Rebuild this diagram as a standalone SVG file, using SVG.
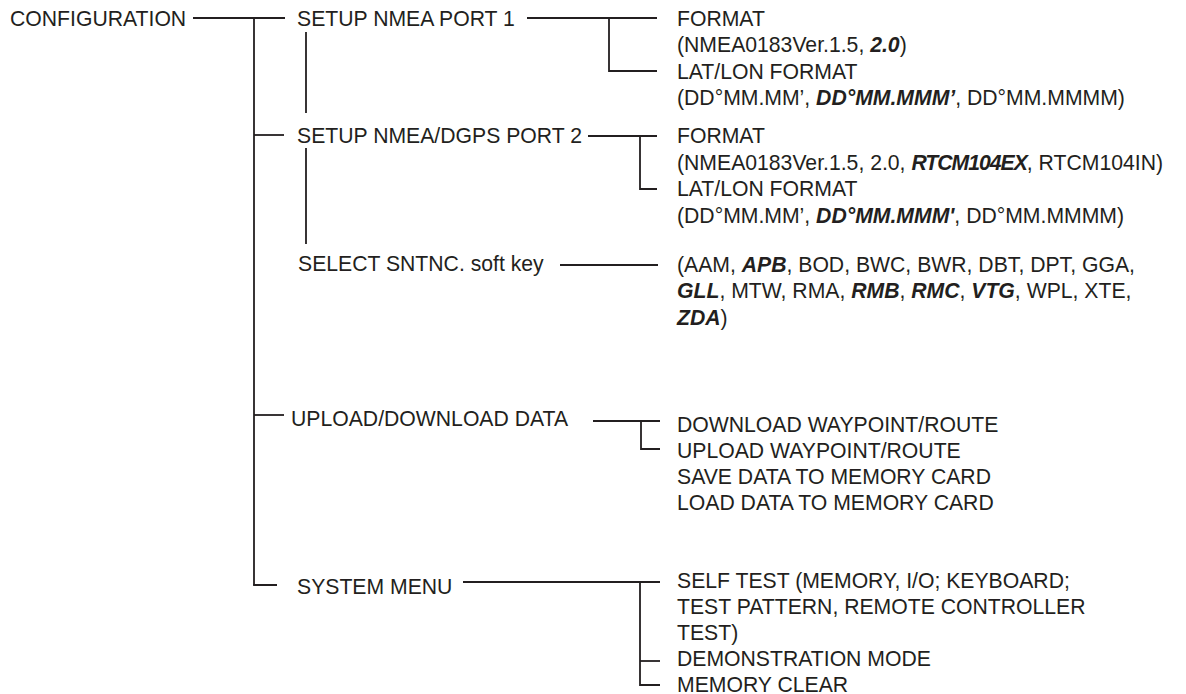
<svg xmlns="http://www.w3.org/2000/svg" width="1186" height="694" viewBox="0 0 1186 694">
<style>
text{font-family:"Liberation Sans",Arial,Helvetica,sans-serif;font-size:21.2px;fill:#231f20}
.b{font-weight:bold;font-style:italic}
.n{letter-spacing:-1px}
#connectors line,#connectors polyline{stroke:#231f20;stroke-width:1.8;fill:none}
</style>
<rect width="1186" height="694" fill="#fff"/>
<g id="connectors">
<line x1="193" y1="18" x2="285" y2="18"/>
<line x1="254" y1="18" x2="254" y2="585"/>
<line x1="254" y1="135" x2="284" y2="135"/>
<line x1="254" y1="415" x2="284" y2="415"/>
<polyline points="254,584 254,585 277,585"/>
<line x1="306" y1="32" x2="306" y2="113"/>
<line x1="306" y1="148" x2="306" y2="244"/>
<line x1="527" y1="18" x2="657" y2="18"/>
<polyline points="609,18 609,71 657,71"/>
<line x1="588" y1="136" x2="657" y2="136"/>
<polyline points="640,136 640,189 657,189"/>
<line x1="560" y1="265" x2="658" y2="265"/>
<line x1="593" y1="421" x2="660" y2="421"/>
<polyline points="641,421 641,449 660,449"/>
<line x1="463" y1="582" x2="660" y2="582"/>
<polyline points="640,582 640,685 660,685"/>
<line x1="640" y1="661" x2="660" y2="661"/>
</g>
<g id="configuration"><text x="10" y="26">CONFIGURATION</text></g>
<g id="setup-port1"><text x="297" y="26">SETUP NMEA PORT 1</text></g>
<g id="port1-options">
<text x="677" y="26">FORMAT</text>
<text x="677" y="52">(NMEA0183Ver.1.5, <tspan class="b">2.0</tspan>)</text>
<text x="677" y="79">LAT/LON FORMAT</text>
<text x="677" y="105">(DD°MM.MM’, <tspan class="b">DD°MM.MMM’</tspan>, DD°MM.MMMM)</text>
</g>
<g id="setup-port2"><text x="297" y="143">SETUP NMEA/DGPS PORT 2</text></g>
<g id="port2-options">
<text x="677" y="143">FORMAT</text>
<text x="677" y="170">(NMEA0183Ver.1.5, 2.0, <tspan class="b n">RTCM104EX</tspan>, RTCM104IN)</text>
<text x="677" y="196">LAT/LON FORMAT</text>
<text x="677" y="223">(DD°MM.MM’, <tspan class="b">DD°MM.MMM'</tspan>, DD°MM.MMMM)</text>
</g>
<g id="select-sntnc"><text x="298" y="271">SELECT SNTNC. soft key</text></g>
<g id="sentences">
<text x="677" y="272">(AAM, <tspan class="b">APB</tspan>, BOD, BWC, BWR, DBT, DPT, GGA,</text>
<text x="677" y="298"><tspan class="b">GLL</tspan>, MTW, RMA, <tspan class="b">RMB</tspan>, <tspan class="b">RMC</tspan>, <tspan class="b">VTG</tspan>, WPL, XTE,</text>
<text x="677" y="325"><tspan class="b">ZDA</tspan>)</text>
</g>
<g id="upload-download"><text x="291" y="426">UPLOAD/DOWNLOAD DATA</text></g>
<g id="upload-download-options">
<text x="677" y="432">DOWNLOAD WAYPOINT/ROUTE</text>
<text x="677" y="458">UPLOAD WAYPOINT/ROUTE</text>
<text x="677" y="484">SAVE DATA TO MEMORY CARD</text>
<text x="677" y="510">LOAD DATA TO MEMORY CARD</text>
</g>
<g id="system-menu"><text x="297" y="594">SYSTEM MENU</text></g>
<g id="system-options">
<text x="677" y="588">SELF TEST (MEMORY, I/O; KEYBOARD;</text>
<text x="677" y="614">TEST PATTERN, REMOTE CONTROLLER</text>
<text x="677" y="640">TEST)</text>
<text x="677" y="666">DEMONSTRATION MODE</text>
<text x="677" y="692">MEMORY CLEAR</text>
</g>
</svg>
